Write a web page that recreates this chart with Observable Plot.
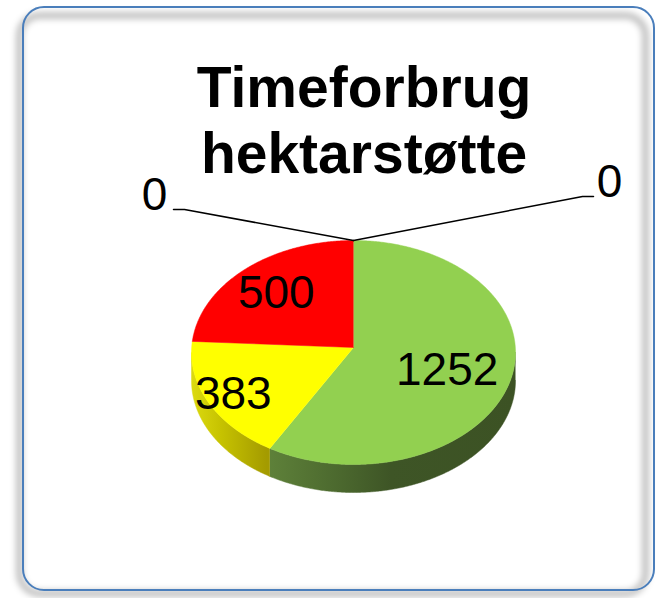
<!DOCTYPE html>
<html><head><meta charset="utf-8">
<script src="https://cdn.jsdelivr.net/npm/d3@7"></script>
<script src="https://cdn.jsdelivr.net/npm/@observablehq/plot@0.6"></script>
<style>
body{margin:0;background:#fff;}
#wrap{position:relative;width:656px;height:598px;overflow:hidden;font-family:"Liberation Sans",Arial,sans-serif;background:#fff;}
#shadow{position:absolute;left:16px;top:12px;width:633px;height:585px;box-sizing:border-box;border:7px solid rgba(0,0,0,0.24);border-radius:24px;filter:blur(3px);}
#frame{position:absolute;left:22px;top:6px;width:633px;height:585px;box-sizing:border-box;border:2px solid #4a7ebb;border-radius:22px;}
#chart{position:absolute;left:0;top:0;}
#title{position:absolute;left:64px;width:600px;top:54px;text-align:center;font-weight:bold;font-size:57px;line-height:66px;color:#000;font-family:"Liberation Sans",Arial,sans-serif;}
</style></head><body>
<div id="wrap">
  <div id="shadow"></div>
  <div id="frame"></div>
  <div id="chart"></div>
  <div id="title">Timeforbrug<br>hektarstøtte</div>
</div>
<script>
// ---- data ----
const categories = ["Kategori 1", "Kategori 2", "Kategori 3", "Kategori 4", "Kategori 5"];
const values = [0, 1252, 383, 500, 0];
const colors = ["#4f81bd", "#92d050", "#ffff00", "#ff0000", "#8064a2"];
// ---- layout (not data) ----
const labelRadius = [1, 0.6, 0.83, 0.71, 1];
const zeroLabelSide = [1, 0, 0, 0, -1]; // +1 right, -1 left
const zeroLabelGap = [16, 0, 0, 0, 19];
const sideGradients = {
  1: {id: "gGreen", x1: 265, x2: 515, stops: [[0, "#5f823a"], [0.3, "#4b682e"], [0.5, "#3e5526"], [1, "#3c5224"]]},
  2: {id: "gYellow", x1: 191, x2: 266, stops: [[0, "#dcda10"], [0.4, "#c6c200"], [1, "#a49b00"]]}
};
const labelFont = 46;

const W = 656, H = 598;
const cx = 353, cy = 352, rx = 162, ry = 112, apexY = 347, depth = 28;
const pt = (a, dy = 0) => ({x: cx + rx * Math.sin(a), y: cy - ry * Math.cos(a) + dy});
const arc = (a0, a1, dy = 0) => {
  const n = Math.max(2, Math.ceil(Math.abs(a1 - a0) / (Math.PI / 360)));
  return d3.range(n + 1).map(i => pt(a0 + (a1 - a0) * i / n, dy));
};

const arcs = d3.pie().sort(null).startAngle(0).endAngle(2 * Math.PI)(values);

const marks = [];
// sides (front, lower half)
arcs.forEach((d, i) => {
  const s = Math.max(d.startAngle, Math.PI / 2), e = Math.min(d.endAngle, 3 * Math.PI / 2);
  if (e <= s) return;
  const poly = [...arc(s, e), ...arc(e, s, depth)];
  const g = sideGradients[i];
  marks.push(Plot.line(poly, {x: "x", y: "y", fill: g ? `url(#${g.id})` : colors[i], stroke: g ? `url(#${g.id})` : colors[i], strokeWidth: 0.5}));
});
// top faces
arcs.forEach((d, i) => {
  if (d.endAngle - d.startAngle <= 0) return;
  const poly = [{x: cx, y: apexY}, ...arc(d.startAngle, d.endAngle)];
  marks.push(Plot.line(poly, {x: "x", y: "y", fill: colors[i], stroke: colors[i], strokeWidth: 0.5}));
});
// labels for non-zero slices
const labels = arcs.filter(d => d.value > 0).map(d => {
  const i = d.index, m = (d.startAngle + d.endAngle) / 2, r = labelRadius[i];
  return {x: cx + r * rx * Math.sin(m), y: cy - r * ry * Math.cos(m), text: String(values[i])};
});
marks.push(Plot.text(labels, {x: "x", y: "y", text: "text", fontSize: labelFont, fill: "black", fontFamily: "Liberation Sans, Arial, sans-serif"}));
// zero-value labels with leader lines
arcs.filter(d => d.value === 0).forEach(d => {
  const side = zeroLabelSide[d.index];
  const top = {x: cx, y: cy - ry};
  const elbow = side > 0 ? {x: top.x + 229, y: top.y - 44} : {x: top.x - 169, y: top.y - 31};
  const end = {x: elbow.x + side * 11, y: elbow.y};
  marks.push(Plot.line([top, elbow, end], {x: "x", y: "y", stroke: "black", strokeWidth: 1.5}));
  marks.push(Plot.text([{x: end.x + side * zeroLabelGap[d.index], y: end.y - 14, text: String(values[d.index])}], {x: "x", y: "y", text: "text", fontSize: labelFont, fill: "black", fontFamily: "Liberation Sans, Arial, sans-serif"}));
});

const chart = Plot.plot({
  width: W, height: H, margin: 0,
  x: {domain: [0, W], range: [0, W], axis: null},
  y: {domain: [0, H], range: [0, H], axis: null},
  style: {background: "transparent", overflow: "visible"},
  marks
});
// gradient definitions for the 3D sides
const ns = "http://www.w3.org/2000/svg";
const defs = document.createElementNS(ns, "defs");
Object.values(sideGradients).forEach(g => {
  const lg = document.createElementNS(ns, "linearGradient");
  lg.setAttribute("id", g.id);
  lg.setAttribute("gradientUnits", "userSpaceOnUse");
  lg.setAttribute("x1", g.x1); lg.setAttribute("x2", g.x2);
  lg.setAttribute("y1", 0); lg.setAttribute("y2", 0);
  g.stops.forEach(([o, c]) => {
    const st = document.createElementNS(ns, "stop");
    st.setAttribute("offset", o); st.setAttribute("stop-color", c);
    lg.appendChild(st);
  });
  defs.appendChild(lg);
});
chart.insertBefore(defs, chart.firstChild);
document.getElementById("chart").appendChild(chart);
</script>
</body></html>
